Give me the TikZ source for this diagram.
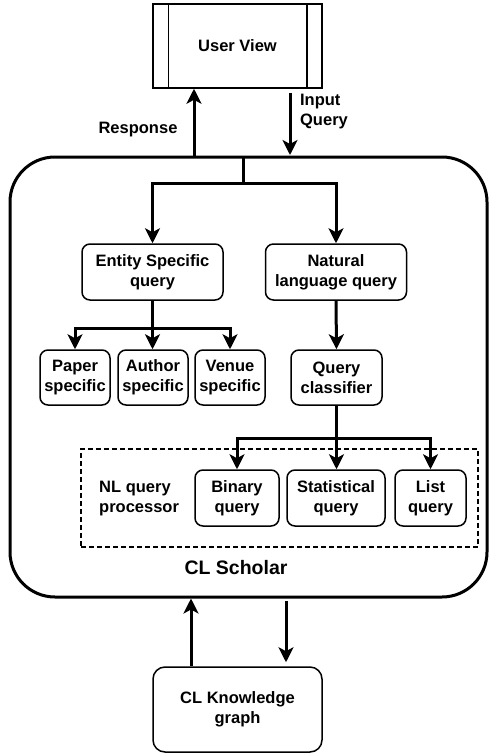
\documentclass[tikz,border=0pt]{standalone}
\usepackage{fontspec}
\setmainfont{Liberation Sans}
\usetikzlibrary{arrows.meta,calc}
\begin{document}
\begin{tikzpicture}[x=1pt,y=-1pt,
  txt/.style={font=\bfseries\fontsize{16.5}{20}\selectfont, align=center, inner sep=0pt},
  box/.style={txt, draw, line width=1.5pt, rounded corners=8pt, anchor=center},
  arr/.style={line width=3pt, -{Stealth[length=15pt,width=15pt,inset=4pt]}},
  ln/.style={line width=3pt}]
\useasboundingbox (0,0) rectangle (489,753);
% user view
\node[txt, draw, line width=1.5pt, minimum width=169pt, minimum height=84pt] (user) at (237.5,46) {User View};
\draw[line width=1.5pt] ([xshift=16pt]user.north west) -- ([xshift=16pt]user.south west)
  ([xshift=-16pt]user.north east) -- ([xshift=-16pt]user.south east);
% scholar box
\node[draw, line width=3pt, rounded corners=45pt, minimum width=477pt, minimum height=440pt, inner sep=0pt] (scholar) at (248.5,377) {};
\node[txt, font=\bfseries\fontsize{19.5}{23}\selectfont] (sclabel) at (236,568) {CL Scholar};
% dashed box
\node[draw, dash pattern=on 5pt off 3pt, line width=1.3pt, minimum width=397pt, minimum height=98pt, inner sep=0pt] (nlp) at (279.5,498) {};
\node[txt, align=left, anchor=west] (nllabel) at (99,499) {NL query\\processor};
% boxes
\node[box, minimum width=141pt, minimum height=56pt] (entity) at (152.5,272) {Entity Specific\\query};
\node[box, minimum width=141pt, minimum height=56pt] (natural) at (336,272) {Natural\\language query};
\node[box, minimum width=70pt, minimum height=55pt] (paper) at (75,377.5) {Paper\\specific};
\node[box, minimum width=70pt, minimum height=55pt] (author) at (153,377.5) {Author\\specific};
\node[box, minimum width=70pt, minimum height=55pt] (venue) at (230,377.5) {Venue\\specific};
\node[box, minimum width=91pt, minimum height=55pt] (qc) at (336.5,377.5) {Query\\classifier};
\node[box, minimum width=84pt, minimum height=56pt] (binary) at (237,498) {Binary\\query};
\node[box, minimum width=98pt, minimum height=56pt] (stat) at (336,498) {Statistical\\query};
\node[box, minimum width=71pt, minimum height=56pt] (list) at (430.5,498) {List\\query};
\node[box, rounded corners=12pt, minimum width=169pt, minimum height=85pt] (kg) at (237.5,709.5) {CL Knowledge\\graph};
% labels
\node[txt] (resp) at (138,130) {Response};
\node[txt, align=left] (inq) at (324,112) {Input\\Query};
% coordinates
\coordinate (split) at (243,183);
\coordinate (esplit) at (152.5,328);
\coordinate (qsplit) at (336.5,438);
% connectors
\draw[arr] ([xshift=-43.5pt]user.south |- scholar.north) -- ([xshift=-43.5pt]user.south);
\draw[arr] ([xshift=52.5pt,yshift=-4pt]user.south) -- ([xshift=52.5pt]user.south |- 0,155);
\draw[ln] (split |- scholar.north) -- (split);
\draw[arr] (split) -| (entity.north);
\draw[arr] (split) -| (natural.north);
\draw[ln] (entity.south) -- (esplit);
\draw[arr] (esplit) -| (paper.north);
\draw[arr] (esplit) -- (author.north -| esplit);
\draw[arr] (esplit) -| (venue.north);
\draw[arr] (natural.south) -- (qc.north);
\draw[ln] (qc.south) -- (qsplit);
\draw[arr] (qsplit) -| (binary.north);
\draw[arr] (qsplit) -- (stat.north -| qsplit);
\draw[arr] (qsplit) -| (list.north);
\draw[arr] ([xshift=-46.5pt]kg.north) -- ([xshift=-46.5pt]kg.north |- scholar.south);
\draw[arr] ([xshift=48.5pt]kg.north |- 0,601) -- ([xshift=48.5pt,yshift=4pt]kg.north);
\end{tikzpicture}
\end{document}
